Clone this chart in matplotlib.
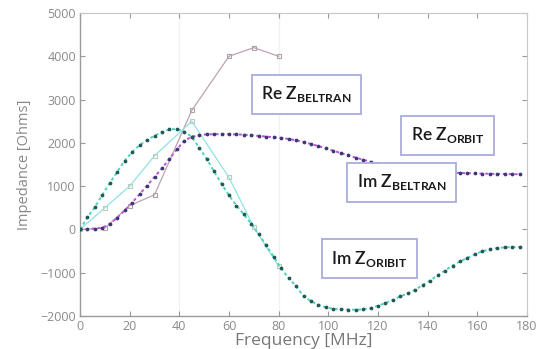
import numpy as np
import matplotlib
matplotlib.use("Agg")
from matplotlib import pyplot as plt

# ORBIT simulation, sampled every 3 MHz
freq_orbit = [0, 3, 6, 9, 12, 15, 18, 21, 24, 27, 30, 33, 36, 39, 42, 45, 48, 51,
              54, 57, 60, 63, 66, 69, 72, 75, 78, 81, 84, 87, 90, 93, 96, 99, 102,
              105, 108, 111, 114, 117, 120, 123, 126, 129, 132, 135, 138, 141, 144,
              147, 150, 153, 156, 159, 162, 165, 168, 171, 174, 177]
re_orbit = [0, 10, 20, 40, 130, 270, 440, 620, 815, 1010, 1210, 1410, 1630, 1850,
            2050, 2140, 2180, 2195, 2200, 2200, 2200, 2195, 2190, 2175, 2160, 2145,
            2130, 2115, 2090, 2060, 2020, 1975, 1925, 1870, 1820, 1765, 1710, 1660,
            1610, 1565, 1520, 1480, 1450, 1420, 1395, 1375, 1360, 1345, 1335, 1325,
            1315, 1305, 1300, 1295, 1290, 1285, 1282, 1280, 1278, 1275]
im_orbit = [0, 280, 515, 800, 1070, 1330, 1590, 1790, 1950, 2065, 2165, 2250, 2310,
            2320, 2260, 2140, 1890, 1630, 1340, 1050, 790, 550, 345, 125, -115, -370,
            -630, -900, -1125, -1310, -1540, -1660, -1740, -1800, -1835, -1847,
            -1852, -1855, -1845, -1815, -1765, -1700, -1630, -1545, -1480, -1390,
            -1285, -1180, -1060, -950, -835, -740, -655, -575, -505, -460, -430,
            -415, -410, -405]

# BELTRAN measurement points
freq_beltran = [0, 10, 20, 30, 45, 60, 70, 80]
re_beltran = [0, 30, 550, 800, 2750, 4000, 4200, 4000]
im_beltran = [0, 500, 1000, 1700, 2500, 1200, 50, -850]

x_ticks = [0, 20, 40, 60, 80, 100, 120, 140, 160, 180]
y_ticks = [-2000, -1000, 0, 1000, 2000, 3000, 4000, 5000]

plt.rcParams['font.family'] = ['Open Sans', 'DejaVu Sans']
plt.rcParams['mathtext.fontset'] = 'custom'
plt.rcParams['mathtext.rm'] = 'Lato:bold'
plt.rcParams['mathtext.bf'] = 'Lato:bold'

fig = plt.figure(figsize=(5.44, 3.49), dpi=100)
ax = fig.add_axes([80 / 544, 1 - 316 / 349, 447 / 544, 303 / 349])

# faint vertical guide lines seen in the picture
for gx in (40, 80):
    ax.axvline(gx, color='#f1f1f1', lw=1.0, zorder=0)

ax.plot(freq_beltran, re_beltran, color='#bba3b3', lw=0.9, marker='s', ms=3.5,
        mfc='none', mec='#b0a0a8', mew=0.8, zorder=2)
ax.plot(freq_beltran, im_beltran, color='#8fe3e0', lw=0.9, marker='s', ms=3.5,
        mfc='none', mec='#b8ccc0', mew=0.8, zorder=2)

ax.plot(freq_orbit, re_orbit, color='#c24fe0', lw=1.4, ls=(0, (1.6, 1.4)), zorder=3)
ax.plot(freq_orbit, re_orbit, ls='none', marker='o', ms=1.7, color='#3a3a70', zorder=4)
ax.plot(freq_orbit, im_orbit, color='#4cd6b8', lw=1.4, ls=(0, (1.6, 1.4)), zorder=3)
ax.plot(freq_orbit, im_orbit, ls='none', marker='o', ms=1.7, color='#245858', zorder=4)

ax.set_xlim(0, 180)
ax.set_ylim(-2000, 5000)
ax.set_xticks(x_ticks)
ax.set_yticks(y_ticks)
ax.tick_params(direction='in', length=3.5, width=0.8, colors='#999999',
               labelcolor='#8a8a8a', labelsize=9, top=True, right=True, pad=3)
for side in ('left', 'bottom'):
    ax.spines[side].set_color('#9a9a9a')
    ax.spines[side].set_linewidth(1.0)
for side in ('top', 'right'):
    ax.spines[side].set_color('#c8c8c8')
    ax.spines[side].set_linewidth(0.8)

ax.set_xlabel('Frequency [MHz]', fontsize=12.5, color='#777777', labelpad=0)
ax.set_ylabel('Impedance [Ohms]', fontsize=10.5, color='#888888', labelpad=6)

box = dict(boxstyle='square,pad=0.55', fc='white', ec='#a8acdc', lw=1.3)
labels = [
    (0.507, 0.732, r'Re Z$_{\mathrm{BELTRAN}}$'),
    (0.822, 0.597, r'Re Z$_{\mathrm{ORBIT}}$'),
    (0.719, 0.441, r'Im Z$_{\mathrm{BELTRAN}}$'),
    (0.647, 0.189, r'Im Z$_{\mathrm{ORIBIT}}$'),
]
for lx, ly, txt in labels:
    ax.text(lx, ly, txt, transform=ax.transAxes, ha='center', va='center',
            fontsize=12.5, family='Lato', weight='semibold', color='#1a1a1a',
            bbox=box, zorder=5)

plt.savefig('out.png', dpi=100)
plt.close()
